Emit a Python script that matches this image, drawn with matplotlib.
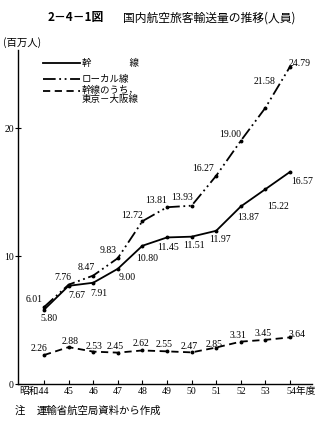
import matplotlib
matplotlib.use("Agg")
import matplotlib.pyplot as plt
import matplotlib.transforms as mtransforms

plt.rcParams['font.family'] = ['Noto Sans CJK JP', 'DejaVu Sans']

years = [44, 45, 46, 47, 48, 49, 50, 51, 52, 53, 54]
year_labels = ['昭和44', '45', '46', '47', '48', '49', '50', '51', '52', '53', '54年度']
trunk = [5.80, 7.67, 7.91, 9.00, 10.80, 11.45, 11.51, 11.97, 13.87, 15.22, 16.57]
local = [6.01, 7.76, 8.47, 9.83, 12.72, 13.81, 13.93, 16.27, 19.00, 21.58, 24.79]
tokyo_osaka = [2.26, 2.88, 2.53, 2.45, 2.62, 2.55, 2.47, 2.85, 3.31, 3.45, 3.64]
series_names = ['幹　　　　線', 'ローカル線', '幹線のうち，\n東京－大阪線']

# label positions (data coords) for value annotations
trunk_pos = [(44.2, 5.15), (45.35, 6.9), (46.25, 7.05), (47.4, 8.3), (48.2, 9.8),
             (49.05, 10.65), (50.1, 10.85), (51.15, 11.3), (52.3, 13.0), (53.5, 13.9), (54.5, 15.8)]
local_pos = [(43.6, 6.6), (44.75, 8.35), (45.7, 9.1), (46.6, 10.4), (47.6, 13.2),
             (48.55, 14.35), (49.6, 14.55), (50.45, 16.8), (51.55, 19.5), (52.95, 23.6), (54.4, 25.0)]
to_pos = [(43.8, 2.8), (45.05, 3.35), (46.05, 2.95), (46.9, 2.9), (47.95, 3.2),
          (48.9, 3.05), (49.9, 2.95), (50.9, 3.1), (51.9, 3.8), (52.9, 3.95), (54.3, 3.9)]

fig = plt.figure(figsize=(3.25, 4.26), dpi=100)
W, H = 325, 426
x0, x1 = 18, 312
y0, y1 = 384, 50
ax = fig.add_axes([x0 / W, (H - y0) / H, (x1 - x0) / W, (y0 - y1) / H])

xmin = 44 - (44 - x0) / 24.6
xmax = 54 + (x1 - 290) / 24.6
ax.set_xlim(xmin, xmax)
ax.set_ylim(0, (y0 - y1) / 12.8)

lw = 1.3
local_ls = (0, (7, 2, 1, 2, 1, 2))
dash_ls = (0, (4, 2.5))
ax.plot(years, trunk, color='black', lw=lw, marker='o', ms=1.8)
ax.plot(years, local, color='black', lw=lw, linestyle=local_ls, marker='o', ms=1.8)
ax.plot(years, tokyo_osaka, color='black', lw=lw, linestyle=dash_ls, marker='o', ms=1.8)

serif = ['Liberation Serif', 'Noto Sans CJK JP', 'DejaVu Serif']
numfont = dict(family=serif, fontsize=7, color='black', ha='center', va='center')
for vals, pos in ((trunk, trunk_pos), (local, local_pos), (tokyo_osaka, to_pos)):
    for v, (px, py) in zip(vals, pos):
        ax.text(px, py, f'{v:.2f}', **numfont)

for s in ['top', 'right']:
    ax.spines[s].set_visible(False)
ax.spines['left'].set_linewidth(1.0)
ax.spines['bottom'].set_linewidth(1.0)
ax.set_yticks([0, 10, 20])
ax.set_yticklabels(['0', '10', '20'], family=serif, fontsize=7)
ax.set_xticks(years)
ax.set_xticklabels(year_labels, family=serif, fontsize=7)
ax.tick_params(axis='x', direction='in', length=3, width=0.8, pad=2)
ax.tick_params(axis='y', direction='inout', length=4, width=0.8, pad=1)

labels = ax.get_xticklabels()
first, last = labels[0], labels[-1]
first.set_ha('right')
first.set_transform(first.get_transform() + mtransforms.ScaledTranslation(5 / 100, 0, fig.dpi_scale_trans))
last.set_ha('left')
last.set_transform(last.get_transform() + mtransforms.ScaledTranslation(-4 / 100, 0, fig.dpi_scale_trans))

# legend (manual)
leg_styles = ['-', local_ls, dash_ls]
leg_y = [63, 79, 91]
for st, yy, name in zip(leg_styles, leg_y, series_names):
    fy = (H - yy) / H
    fig.add_artist(plt.Line2D([43 / W, 80 / W], [fy, fy], color='black', lw=lw, linestyle=st))
    va = 'center' if '\n' not in name else 'top'
    ty = fy if '\n' not in name else fy + 5 / H
    fig.text(82 / W, ty, name, fontsize=6.8, va=va, ha='left', linespacing=0.9)

fig.text(48 / W, (H - 18) / H, '2－4－1図', fontsize=8.5, ha='left', va='center', fontweight='bold')
fig.text(123 / W, (H - 18) / H, '国内航空旅客輸送量の推移(人員)',
         fontsize=8.5, ha='left', va='center')
fig.text(3 / W, (H - 43) / H, '(百万人)', fontsize=7.5, ha='left', va='center')
fig.text(15 / W, (H - 411) / H, '注', fontsize=7.5, ha='left', va='center')
fig.text(37 / W, (H - 411) / H, '運輸省航空局資料から作成', fontsize=7.5, ha='left', va='center')

fig.savefig('out.png', dpi=100)
